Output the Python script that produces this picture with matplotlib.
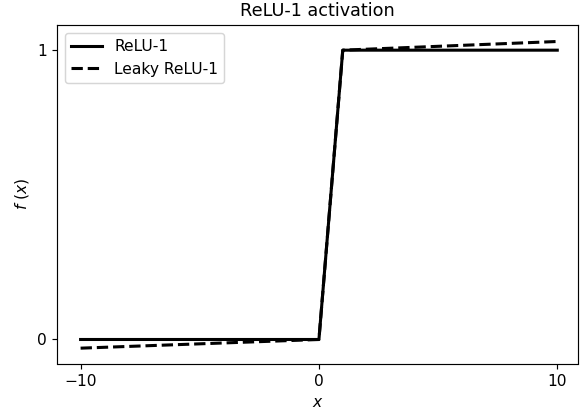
import numpy as np
import matplotlib
matplotlib.use("Agg")
import matplotlib.pyplot as plt

# breakpoints of the two activations
x = [-10, 0, 1, 10]
relu1 = [0, 0, 1, 1]
leaky_relu1 = [-0.03, 0, 1, 1.03]

x_ticks = [-10, 0, 10]
y_ticks = [0, 1]

plt.rcParams["font.size"] = 10.6

fig = plt.figure(figsize=(584 / 105, 415 / 105), dpi=105)
ax = fig.add_axes([57 / 584, 1 - 363.5 / 415, 521 / 584, 338.5 / 415])

ax.plot(x, relu1, color="black", linewidth=2.1, label="ReLU-1")
ax.plot(x, leaky_relu1, color="black", linewidth=2.1, linestyle="--", label="Leaky ReLU-1")

ax.set_xlim(-10.99, 10.87)
ax.set_ylim(-0.083, 1.087)
ax.set_xticks(x_ticks)
ax.set_yticks(y_ticks)
ax.set_xlabel("$x$")
ax.set_ylabel("$f\\ (x)$")
ax.set_title("ReLU-1 activation", fontsize=12.1)
ax.legend(loc="upper left")

fig.savefig("out.png", dpi=105)
